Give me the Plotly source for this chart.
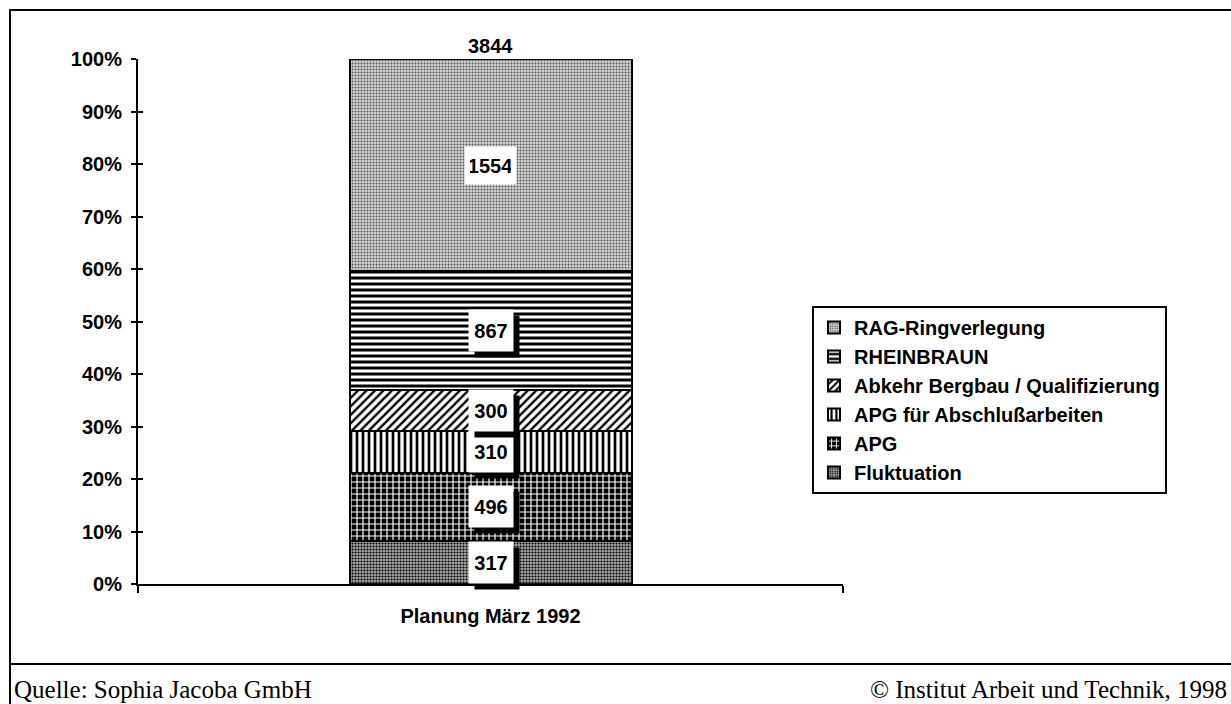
import plotly.graph_objects as go

category = ["Planung März 1992"]
series_names = ["Fluktuation", "APG", "APG für Abschlußarbeiten",
                "Abkehr Bergbau / Qualifizierung", "RHEINBRAUN", "RAG-Ringverlegung"]
series_values = [317, 496, 310, 300, 867, 1554]
y_ticks = [0, 10, 20, 30, 40, 50, 60, 70, 80, 90, 100]
y_tick_labels = [f"{t}%" for t in y_ticks]
source_text = "Quelle: Sophia Jacoba GmbH"
copyright_text = "© Institut Arbeit und Technik, 1998"

patterns = [
    dict(shape=".", fgcolor="#000000", bgcolor="#a8a8a8", size=3, solidity=0.4, fillmode="replace"),
    dict(shape="+", fgcolor="#ffffff", bgcolor="#000000", size=6, solidity=0.35, fillmode="replace"),
    dict(shape="|", fgcolor="#000000", bgcolor="#ffffff", size=6, solidity=0.45, fillmode="replace"),
    dict(shape="/", fgcolor="#000000", bgcolor="#ffffff", size=6, solidity=0.4, fillmode="replace"),
    dict(shape="-", fgcolor="#000000", bgcolor="#ffffff", size=6, solidity=0.5, fillmode="replace"),
    dict(shape=".", fgcolor="#555555", bgcolor="#d4d4d4", size=3, solidity=0.35, fillmode="replace"),
]

FONT = "Liberation Sans, Arial, sans-serif"
SERIF = "Liberation Serif, Times New Roman, serif"

W, H = 1231, 704
L, R, T, B = 138, 843, 59, 584


def px_x(px):
    return (px - L) / (R - L)


def px_y(py):
    return (B - py) / (B - T)


fig = go.Figure()
for name, val, pat in zip(series_names, series_values, patterns):
    fig.add_trace(go.Bar(
        x=category, y=[val], name=name, width=0.4,
        marker=dict(color=pat["bgcolor"], pattern=pat, line=dict(color="#000000", width=2)),
    ))

total = sum(series_values)
annotations = []
cum = 0
for name, val in zip(series_names, series_values):
    mid = (cum + val / 2) / total * 100
    cum += val
    big = len(str(val)) > 3
    w = 41 if big else 34
    h = 27 if big else 31
    if name != "RAG-Ringverlegung":
        annotations.append(dict(
            x=category[0], y=mid, xref="x", yref="y", text=" ", showarrow=False,
            font=dict(family=FONT, size=20, color="#000000"),
            bgcolor="#000000", width=w, height=h, borderpad=5, xshift=6, yshift=-6,
        ))
    annotations.append(dict(
        x=category[0], y=mid, xref="x", yref="y", text=str(val), showarrow=False,
        font=dict(family=FONT, size=20, color="#000000", weight="bold"),
        bgcolor="#ffffff", width=w, height=h, borderpad=5,
    ))

annotations.append(dict(
    x=category[0], y=100, xref="x", yref="y", text=str(total), showarrow=False,
    yanchor="bottom", yshift=0,
    font=dict(family=FONT, size=20, color="#000000", weight="bold"),
))
annotations.append(dict(
    x=px_x(12), y=px_y(689), xref="paper", yref="paper", text=source_text, showarrow=False,
    xanchor="left", yanchor="middle", font=dict(family=SERIF, size=25, color="#000000"),
))
annotations.append(dict(
    x=px_x(1229), y=px_y(689), xref="paper", yref="paper", text=copyright_text, showarrow=False,
    xanchor="right", yanchor="middle", font=dict(family=SERIF, size=25, color="#000000"),
))

shapes = [
    dict(type="rect", xref="paper", yref="paper", x0=px_x(10), y0=px_y(664), x1=px_x(1240), y1=px_y(10),
         line=dict(color="#000000", width=2), layer="below"),
    dict(type="line", xref="paper", yref="paper", x0=px_x(10), y0=px_y(665), x1=px_x(10), y1=px_y(710),
         line=dict(color="#000000", width=2)),
]

fig.update_layout(
    width=W, height=H,
    margin=dict(l=L, r=W - R, t=T, b=H - B, pad=0),
    paper_bgcolor="#ffffff", plot_bgcolor="#ffffff",
    barmode="stack", barnorm="percent",
    showlegend=True,
    legend=dict(
        x=px_x(812), y=px_y(306), xanchor="left", yanchor="top",
        traceorder="reversed", bgcolor="#ffffff", bordercolor="#000000", borderwidth=2,
        font=dict(family=FONT, size=20, color="#000000", weight="bold"),
        itemwidth=30, itemclick=False,
    ),
    font=dict(family=FONT, size=20, color="#000000"),
    xaxis=dict(
        type="category", range=[-0.5, 0.5], showline=True, linecolor="#000000", linewidth=2,
        ticks="outside", tickson="boundaries", ticklen=7, tickwidth=2, tickcolor="#000000",
        showgrid=False, zeroline=False, ticklabelstandoff=13,
        tickfont=dict(family=FONT, size=20, color="#000000", weight="bold"),
    ),
    xaxis2=dict(
        type="category", range=[-0.5, 0.5], overlaying="x", matches="x", showline=False,
        ticks="inside", tickson="boundaries", ticklen=7, tickwidth=2, tickcolor="#000000",
        showticklabels=False, showgrid=False, zeroline=False, side="bottom",
    ),
    yaxis=dict(
        range=[0, 100], tickvals=y_ticks, ticktext=y_tick_labels, showline=True,
        linecolor="#000000", linewidth=2, ticks="outside", ticklen=5, tickwidth=2,
        tickcolor="#000000", showgrid=False, zeroline=False, ticklabelstandoff=5,
        tickfont=dict(family=FONT, size=20, color="#000000", weight="bold"),
    ),
    yaxis2=dict(
        range=[0, 100], tickvals=y_ticks, overlaying="y", side="left", showline=False,
        ticks="inside", ticklen=5, tickwidth=2, tickcolor="#000000",
        showticklabels=False, showgrid=False, zeroline=False,
    ),
    annotations=annotations,
    shapes=shapes,
)

# invisible trace to activate the overlay axes for the inside ticks
fig.add_trace(go.Scatter(x=category, y=[None], xaxis="x2", yaxis="y2", showlegend=False,
                         hoverinfo="skip", mode="markers"))

fig.write_html("out.html", config={"displayModeBar": False},
               post_script="document.body.style.margin='0';document.body.style.overflow='hidden';")
